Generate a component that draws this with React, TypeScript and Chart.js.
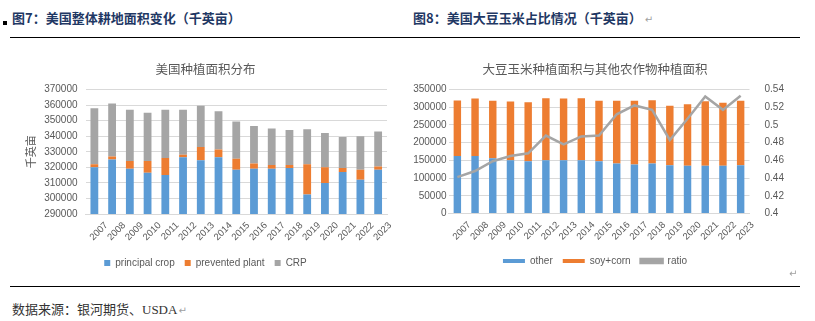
import React, { useEffect, useRef } from "react";
import { Chart, registerables } from "chart.js";

Chart.register(...registerables);

const years = ["2007","2008","2009","2010","2011","2012","2013","2014","2015","2016","2017","2018","2019","2020","2021","2022","2023"];

const principalCrop = [320000,325000,319000,316500,315000,326500,324500,326500,318500,319000,319000,319500,302500,310000,317000,312000,318500];
const preventedPlant = [2000,2000,5000,7500,11000,1500,8500,5000,7000,3500,2500,2000,19500,10000,2500,6500,2000];
const crp = [36000,34000,33000,31000,31000,29000,26500,24500,24000,24000,23500,22500,22500,22000,20000,21500,22500];

const other = [162000,162000,156000,150500,147500,150500,150500,150500,147500,141000,138500,141000,136500,134500,134500,134500,136500];
const soyCorn = [157000,162500,162000,165500,166500,175000,174000,175000,170500,177000,179500,179000,167500,174000,182500,178000,181500];
const ratio = [0.441,0.448,0.459,0.465,0.468,0.488,0.478,0.487,0.488,0.512,0.522,0.517,0.483,0.507,0.532,0.517,0.533];

const leftTicks = { min: 290000, max: 370000, step: 10000 };
const rightTicks = { min: 0, max: 350000, step: 50000 };
const ratioTicks = { min: 0.4, max: 0.54, step: 0.02 };

const BLUE = "#5B9BD5";
const ORANGE = "#ED7D31";
const GRAY = "#A5A5A5";
const TXT = "#595959";
const GRID = "#D9D9D9";
const FONT = "'Liberation Sans', Arial, sans-serif";
const CJK = "'Noto Sans CJK SC', sans-serif";

const plain = (v: any) => String(Math.round(Number(v) * 100) / 100);

function LeftChart() {
  const ref = useRef<HTMLCanvasElement | null>(null);
  useEffect(() => {
    const chart = new Chart(ref.current!, {
      type: "bar",
      data: {
        labels: years,
        datasets: [
          { label: "principal crop", data: principalCrop, backgroundColor: BLUE },
          { label: "prevented plant", data: preventedPlant, backgroundColor: ORANGE },
          { label: "CRP", data: crp, backgroundColor: GRAY },
        ],
      },
      options: {
        animation: false,
        responsive: false,
        devicePixelRatio: 1,
        events: [],
        layout: { padding: { left: 14, right: 13, top: 0, bottom: 2 } },
        datasets: { bar: { categoryPercentage: 1, barPercentage: 0.44 } },
        scales: {
          x: {
            stacked: true,
            grid: { display: false, drawTicks: false },
            border: { color: GRID },
            ticks: { autoSkip: false, minRotation: 45, maxRotation: 45, labelOffset: 12, padding: 6, color: TXT, font: { family: FONT, size: 9.5 } },
            afterFit: (s: any) => { s.height = 34; },
          },
          y: {
            stacked: true,
            min: leftTicks.min,
            max: leftTicks.max,
            ticks: { stepSize: leftTicks.step, padding: 8, color: TXT, font: { family: FONT, size: 10 }, callback: plain },
            grid: { color: GRID, drawTicks: false },
            border: { display: false },
            title: { display: true, text: "千英亩", color: TXT, font: { family: CJK, size: 11 }, padding: { top: 0, bottom: 4 } },
            afterFit: (s: any) => { s.width = 61.5; },
          },
        },
        plugins: {
          title: { display: true, text: "美国种植面积分布", color: TXT, font: { family: CJK, size: 12.5, weight: "normal" }, padding: { top: 11.5, bottom: 13 } },
          legend: {
            position: "bottom",
            labels: { boxWidth: 6, boxHeight: 6, padding: 10, color: TXT, font: { family: FONT, size: 10 } },
          },
          tooltip: { enabled: false },
        },
      },
    } as any);
    return () => chart.destroy();
  }, []);
  return <canvas ref={ref} width={390} height={230} style={{ position: "absolute", left: 10, top: 50, width: 390, height: 230 }} />;
}

function RightChart() {
  const ref = useRef<HTMLCanvasElement | null>(null);
  useEffect(() => {
    const chart = new Chart(ref.current!, {
      type: "bar",
      data: {
        labels: years,
        datasets: [
          { type: "bar", label: "other", data: other, backgroundColor: BLUE, yAxisID: "y", order: 0 },
          { type: "bar", label: "soy+corn", data: soyCorn, backgroundColor: ORANGE, yAxisID: "y", order: 0 },
          { type: "line", label: "ratio", data: ratio, borderColor: GRAY, backgroundColor: GRAY, borderWidth: 2.5, pointRadius: 0, tension: 0, yAxisID: "y1", order: -1 },
        ],
      },
      options: {
        animation: false,
        responsive: false,
        devicePixelRatio: 1,
        events: [],
        layout: { padding: { left: 0, right: 0, top: 0, bottom: 4 } },
        datasets: { bar: { categoryPercentage: 1, barPercentage: 0.42 } },
        scales: {
          x: {
            stacked: true,
            grid: { display: false, drawTicks: false },
            border: { color: GRID },
            ticks: { autoSkip: false, minRotation: 45, maxRotation: 45, labelOffset: 12, padding: 6, color: TXT, font: { family: FONT, size: 9.5 } },
            afterFit: (s: any) => { s.height = 32.5; },
          },
          y: {
            stacked: true,
            position: "left",
            min: rightTicks.min,
            max: rightTicks.max,
            ticks: { stepSize: rightTicks.step, padding: 2, color: TXT, font: { family: FONT, size: 10 }, callback: plain },
            grid: { color: GRID, drawTicks: false },
            border: { display: false },
            afterFit: (s: any) => { s.width = 48.5; },
          },
          y1: {
            position: "right",
            min: ratioTicks.min,
            max: ratioTicks.max,
            ticks: { stepSize: ratioTicks.step, padding: 15, color: TXT, font: { family: FONT, size: 10 }, callback: plain },
            grid: { display: false, drawTicks: false },
            border: { display: false },
            afterFit: (s: any) => { s.width = 40.5; },
          },
        },
        plugins: {
          title: { display: true, text: "大豆玉米种植面积与其他农作物种植面积", color: TXT, font: { family: CJK, size: 12.5, weight: "normal" }, padding: { top: 11.5, bottom: 13 } },
          legend: {
            position: "bottom",
            labels: { boxWidth: 22, boxHeight: 4, padding: 10, color: TXT, font: { family: FONT, size: 10 }, sort: (a: any, b: any) => a.datasetIndex - b.datasetIndex },
          },
          tooltip: { enabled: false },
        },
      },
    } as any);
    return () => chart.destroy();
  }, []);
  return <canvas ref={ref} width={390} height={230} style={{ position: "absolute", left: 400, top: 50, width: 390, height: 230 }} />;
}

export default function App() {
  const head: React.CSSProperties = { position: "absolute", top: 8, lineHeight: "20px", fontSize: 13, fontWeight: "bold", color: "#1F3864", fontFamily: CJK, whiteSpace: "nowrap" };
  const ret: React.CSSProperties = { color: "#A0A0A0", fontWeight: "normal", fontFamily: "'DejaVu Sans', sans-serif", fontSize: 10, marginLeft: 3 };
  return (
    <div style={{ position: "absolute", left: 0, top: 0, width: 815, height: 321, background: "#fff", overflow: "hidden" }}>
      <div style={{ position: "absolute", left: 3, top: 21, width: 4, height: 4, background: "#000" }} />
      <div style={{ ...head, left: 12 }}>图7：美国整体耕地面积变化（千英亩）</div>
      <div style={{ ...head, left: 413 }}>图8：美国大豆玉米占比情况（千英亩）<span style={ret}>↵</span></div>
      <div style={{ position: "absolute", left: 10, top: 37, width: 790, height: 1, background: "#000" }} />
      <LeftChart />
      <RightChart />
      <div style={{ position: "absolute", left: 789, top: 268, color: "#A0A0A0", fontFamily: "'DejaVu Sans', sans-serif", fontSize: 10 }}>↵</div>
      <div style={{ position: "absolute", left: 10, top: 286, width: 790, height: 1, background: "#000" }} />
      <div style={{ position: "absolute", left: 12, top: 300, lineHeight: "20px", fontSize: 13, color: "#333", fontFamily: "'Liberation Serif', 'Noto Sans CJK SC', serif", whiteSpace: "nowrap" }}>
        数据来源：银河期货、USDA<span style={{ ...ret, marginLeft: 1 }}>↵</span>
      </div>
    </div>
  );
}
